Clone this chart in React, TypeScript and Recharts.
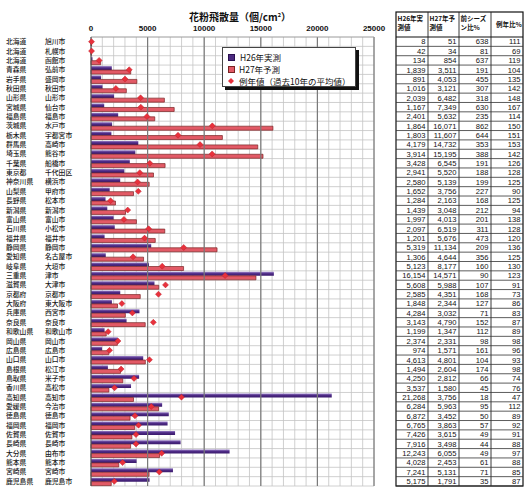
import { ComposedChart, Bar, Line, XAxis, YAxis, CartesianGrid, ReferenceLine, Legend } from 'recharts';

const prefectures = [
  '北海道', '北海道', '北海道', '青森県', '岩手県', '秋田県', '山形県', '宮城県', '福島県', '茨城県',
  '栃木県', '群馬県', '埼玉県', '千葉県', '東京都', '神奈川県', '山梨県', '長野県', '新潟県', '富山県',
  '石川県', '福井県', '静岡県', '愛知県', '岐阜県', '三重県', '滋賀県', '京都府', '大阪府', '兵庫県',
  '奈良県', '和歌山県', '岡山県', '広島県', '山口県', '島根県', '鳥取県', '香川県', '高知県', '愛媛県',
  '徳島県', '福岡県', '佐賀県', '長崎県', '大分県', '熊本県', '宮崎県', '鹿児島県',
];
const cities = [
  '旭川市', '札幌市', '函館市', '弘前市', '盛岡市', '秋田市', '山形市', '仙台市', '福島市', '水戸市',
  '宇都宮市', '高崎市', '熊谷市', '船橋市', '千代田区', '横浜市', '甲府市', '松本市', '新潟市', '富山市',
  '小松市', '福井市', '静岡市', '名古屋市', '大垣市', '津市', '大津市', '京都市', '東大阪市', '西宮市',
  '奈良市', '和歌山市', '岡山市', '広島市', '山口市', '松江市', '米子市', '高松市', '高知市', '今治市',
  '徳島市', '福岡市', '佐賀市', '長崎市', '由布市', '熊本市', '宮崎市', '鹿児島市',
];
const h26Actual = [
  8, 42, 134, 1839, 891, 1016, 2039, 1167, 2401, 1864,
  1803, 4179, 3914, 3428, 2941, 2580, 1652, 1284, 1439, 1997,
  2097, 1201, 5319, 1306, 5123, 16154, 5608, 2585, 1848, 4284,
  3143, 1199, 2374, 974, 4613, 1494, 4250, 3537, 21268, 6284,
  6872, 6765, 7426, 7916, 12243, 4028, 7241, 5175,
];
const h27Forecast = [
  51, 34, 854, 3511, 4053, 3121, 6482, 7349, 5632, 16071,
  11607, 14732, 15195, 6545, 5520, 5139, 3756, 2163, 3048, 4013,
  6519, 5676, 11134, 4644, 8177, 14571, 5988, 4351, 2344, 3032,
  4790, 1347, 2331, 1571, 4801, 2604, 2812, 1580, 3756, 5963,
  3452, 3863, 3615, 3498, 6055, 2453, 5131, 1791,
];
const normalValues = [
  46, 49, 718, 3376, 3002, 2198, 4380, 4401, 4940, 10714,
  7687, 9629, 10701, 5194, 4313, 4111, 4173, 1730, 3243, 2908,
  5093, 4730, 8187, 3715, 6290, 11846, 6580, 5960, 2726, 3653,
  5506, 1513, 2379, 1636, 5162, 2657, 3800, 2079, 7991, 5324,
  3879, 4199, 3973, 3975, 6242, 2788, 6036, 2059,
];
const prevSeasonPct = [
  638, 81, 637, 191, 455, 307, 318, 630, 235, 862,
  644, 353, 388, 191, 188, 199, 227, 168, 212, 201,
  311, 473, 209, 356, 160, 90, 107, 168, 127, 71,
  152, 112, 98, 161, 104, 174, 66, 45, 18, 95,
  50, 57, 49, 44, 49, 61, 71, 35,
];
const normalPct = [
  111, 69, 119, 104, 135, 142, 148, 167, 114, 150,
  151, 153, 142, 126, 128, 125, 90, 125, 94, 138,
  128, 120, 136, 125, 130, 123, 91, 73, 86, 83,
  87, 89, 98, 96, 93, 98, 74, 76, 47, 112,
  89, 92, 91, 88, 97, 88, 85, 87,
];
const xTicks = [
  0, 1000, 2000, 3000, 4000, 5000, 6000, 7000, 8000, 9000, 10000, 11000, 12000,
  13000, 14000, 15000, 16000, 17000, 18000, 19000, 20000, 21000, 22000, 23000, 24000, 25000,
];
const majorTicks = [5000, 10000, 15000, 20000, 25000];
const tableHeaders = [['H26年実', '測値'], ['H27年予', '測値'], ['前シーズ', 'ン比%'], ['例年比%']];

const data = prefectures.map((p, i) => ({
  key: `${p} ${cities[i]}`,
  h26: h26Actual[i],
  h27: h27Forecast[i],
  normal: normalValues[i],
}));

const CHART_W = 390;
const CHART_H = 500;
const MARGIN = { top: 20, right: 16, bottom: 14, left: 0 };
const X_AXIS_H = 17;
const PLOT_TOP = MARGIN.top + X_AXIS_H;
const PLOT_BOTTOM = CHART_H - MARGIN.bottom;
const ROW_H = (PLOT_BOTTOM - PLOT_TOP) / data.length;

const JP = '"Noto Sans CJK JP", "Noto Sans", sans-serif';
const NUM = '"Liberation Sans", Arial, sans-serif';

const PlaceTick = ({ y, payload }: any) => {
  const [pref, city] = String(payload.value).split(' ');
  return (
    <g>
      <text x={6} y={y} dy={2.5} fontSize={6.8} fontFamily={JP} fill="#1a1a1a" fontWeight={500}>{pref}</text>
      <text x={45} y={y} dy={2.5} fontSize={6.8} fontFamily={JP} fill="#1a1a1a" fontWeight={500}>{city}</text>
    </g>
  );
};

const ValueTick = ({ x, y, payload }: any) => {
  if (payload.value % 5000 !== 0) return <g />;
  return (
    <text x={x} y={y} dy={-2} textAnchor="middle" fontSize={8} fontFamily={NUM} fontWeight={700} fill="#111">
      {payload.value}
    </text>
  );
};

const Diamond = (props: any) => {
  const { cx, cy } = props;
  if (cx == null || cy == null) return null;
  const r = 3;
  return (
    <path
      d={`M${cx},${cy - r}L${cx + r},${cy}L${cx},${cy + r}L${cx - r},${cy}Z`}
      fill="#e8313c"
      stroke="#c0222c"
      strokeWidth={0.5}
    />
  );
};

const LegendBox = () => (
  <div style={{ position: 'relative', width: 134, height: 40 }}>
    <div style={{ position: 'absolute', left: 3, top: 3, width: 134, height: 40, background: '#111' }} />
    <div style={{
      position: 'absolute', left: 0, top: 0, width: 132, height: 38,
      background: '#fff', border: '1px solid #444', fontFamily: JP, fontSize: 8.5, color: '#111',
    }}>
      <div style={{ position: 'absolute', left: 5, top: 3, display: 'flex', alignItems: 'center' }}>
        <span style={{ width: 5, height: 5, background: '#4b2a80', border: '0.5px solid #2a1050', marginRight: 5 }} />
        H26年実測
      </div>
      <div style={{ position: 'absolute', left: 5, top: 15, display: 'flex', alignItems: 'center' }}>
        <span style={{ width: 5, height: 5, background: '#e25a66', border: '1px solid #7a2424', marginRight: 4 }} />
        H27年予測
      </div>
      <div style={{ position: 'absolute', left: 4, top: 27, display: 'flex', alignItems: 'center' }}>
        <svg width={8} height={8} style={{ marginRight: 4 }}>
          <path d="M4,1L7,4L4,7L1,4Z" fill="#e8313c" />
        </svg>
        例年値（過去10年の平均値）
      </div>
    </div>
  </div>
);

const fmt = (v: number) => v.toLocaleString('en-US');

const DataTable = () => {
  const left = 396;
  const colW = [32, 31, 32, 32];
  const colX = [left, left + 32, left + 63, left + 95, left + 127];
  const headTop = 12;
  const rows = data.map((_, i) => [fmt(h26Actual[i]), fmt(h27Forecast[i]), String(prevSeasonPct[i]), String(normalPct[i])]);
  return (
    <svg width={532} height={500} style={{ position: 'absolute', left: 0, top: 0, pointerEvents: 'none' }}>
      <rect x={left} y={headTop} width={127} height={PLOT_BOTTOM - headTop} fill="#fff" stroke="#111" strokeWidth={1.2} />
      {colX.slice(1, 4).map((x) => (
        <line key={x} x1={x} x2={x} y1={headTop} y2={PLOT_BOTTOM} stroke="#222" strokeWidth={0.9} />
      ))}
      <line x1={left} x2={left + 127} y1={PLOT_TOP} y2={PLOT_TOP} stroke="#111" strokeWidth={1.1} />
      {rows.map((_, i) => (
        <line key={`l${i}`} x1={left} x2={left + 127} y1={PLOT_TOP + (i + 1) * ROW_H} y2={PLOT_TOP + (i + 1) * ROW_H} stroke="#333" strokeWidth={0.8} />
      ))}
      {tableHeaders.map((lines, c) => (
        <text key={`h${c}`} fontSize={6.5} fontFamily={JP} fontWeight={700} fill="#111">
          {lines.map((t, k) => (
            <tspan key={k} x={colX[c] + (lines.length === 1 ? 5 : 1.5)} y={lines.length === 1 ? headTop + 15 : headTop + 9 + k * 9}>{t}</tspan>
          ))}
        </text>
      ))}
      {rows.map((r, i) =>
        r.map((t, c) => (
          <text
            key={`c${i}-${c}`}
            x={colX[c] + colW[c] - 2.5}
            y={PLOT_TOP + (i + 0.5) * ROW_H}
            dy={2.8}
            textAnchor="end"
            fontSize={7.6}
            fontFamily={NUM}
            fill="#111"
          >
            {t}
          </text>
        ))
      )}
    </svg>
  );
};

export default function App() {
  return (
    <div style={{ position: 'absolute', left: 0, top: 0, width: 532, height: 500, background: '#fff' }}>
      <div style={{
        position: 'absolute', left: 0, width: 480, top: 10, textAlign: 'center',
        fontFamily: JP, fontSize: 10, fontWeight: 700, color: '#111', lineHeight: '13px',
      }}>
        花粉飛散量（個/cm<sup style={{ fontSize: 5.5, lineHeight: 0 }}>2</sup>）
      </div>
      <div style={{ position: 'absolute', left: 0, top: 0 }}>
        <ComposedChart
          layout="vertical"
          width={CHART_W}
          height={CHART_H}
          data={data}
          margin={MARGIN}
          barGap={0}
          barSize={4}
        >
          <defs>
            <linearGradient id="h26Fill" x1="0" y1="0" x2="0" y2="1">
              <stop offset="0%" stopColor="#9c84c8" />
              <stop offset="45%" stopColor="#4e2b86" />
              <stop offset="100%" stopColor="#3a1a6c" />
            </linearGradient>
          </defs>
          <CartesianGrid
            stroke="#c4c4c4"
            strokeWidth={0.8}
            horizontalCoordinatesGenerator={({ offset }: any) =>
              data.map((_, i) => offset.top + (i + 1) * (offset.height / data.length))
            }
          />
          {majorTicks.map((t) => (
            <ReferenceLine key={t} x={t} stroke="#7a7a7a" strokeWidth={1.2} />
          ))}
          <XAxis
            type="number"
            orientation="top"
            domain={[0, 25000]}
            ticks={xTicks}
            interval={0}
            height={X_AXIS_H}
            axisLine={{ stroke: '#9a9a9a' }}
            tickLine={false}
            tickSize={4}
            tickMargin={0}
            tick={<ValueTick />}
          />
          <YAxis
            type="category"
            dataKey="key"
            width={91}
            interval={0}
            axisLine={{ stroke: '#555', strokeWidth: 1.2 }}
            tickLine={false}
            tick={<PlaceTick />}
          />
          <Legend
            layout="vertical"
            align="center"
            verticalAlign="middle"
            content={<LegendBox />}
            wrapperStyle={{ left: 222, top: 47, width: 140, height: 44 }}
          />
          <Bar dataKey="h26" name="H26年実測" fill="url(#h26Fill)" isAnimationActive={false} />
          <Bar dataKey="h27" name="H27年予測" fill="#e25a66" stroke="#7a2424" strokeWidth={0.7} isAnimationActive={false} />
          <Line
            dataKey="normal"
            name="例年値（過去10年の平均値）"
            stroke="none"
            dot={<Diamond />}
            activeDot={false}
            isAnimationActive={false}
          />
        </ComposedChart>
      </div>
      <DataTable />
    </div>
  );
}
